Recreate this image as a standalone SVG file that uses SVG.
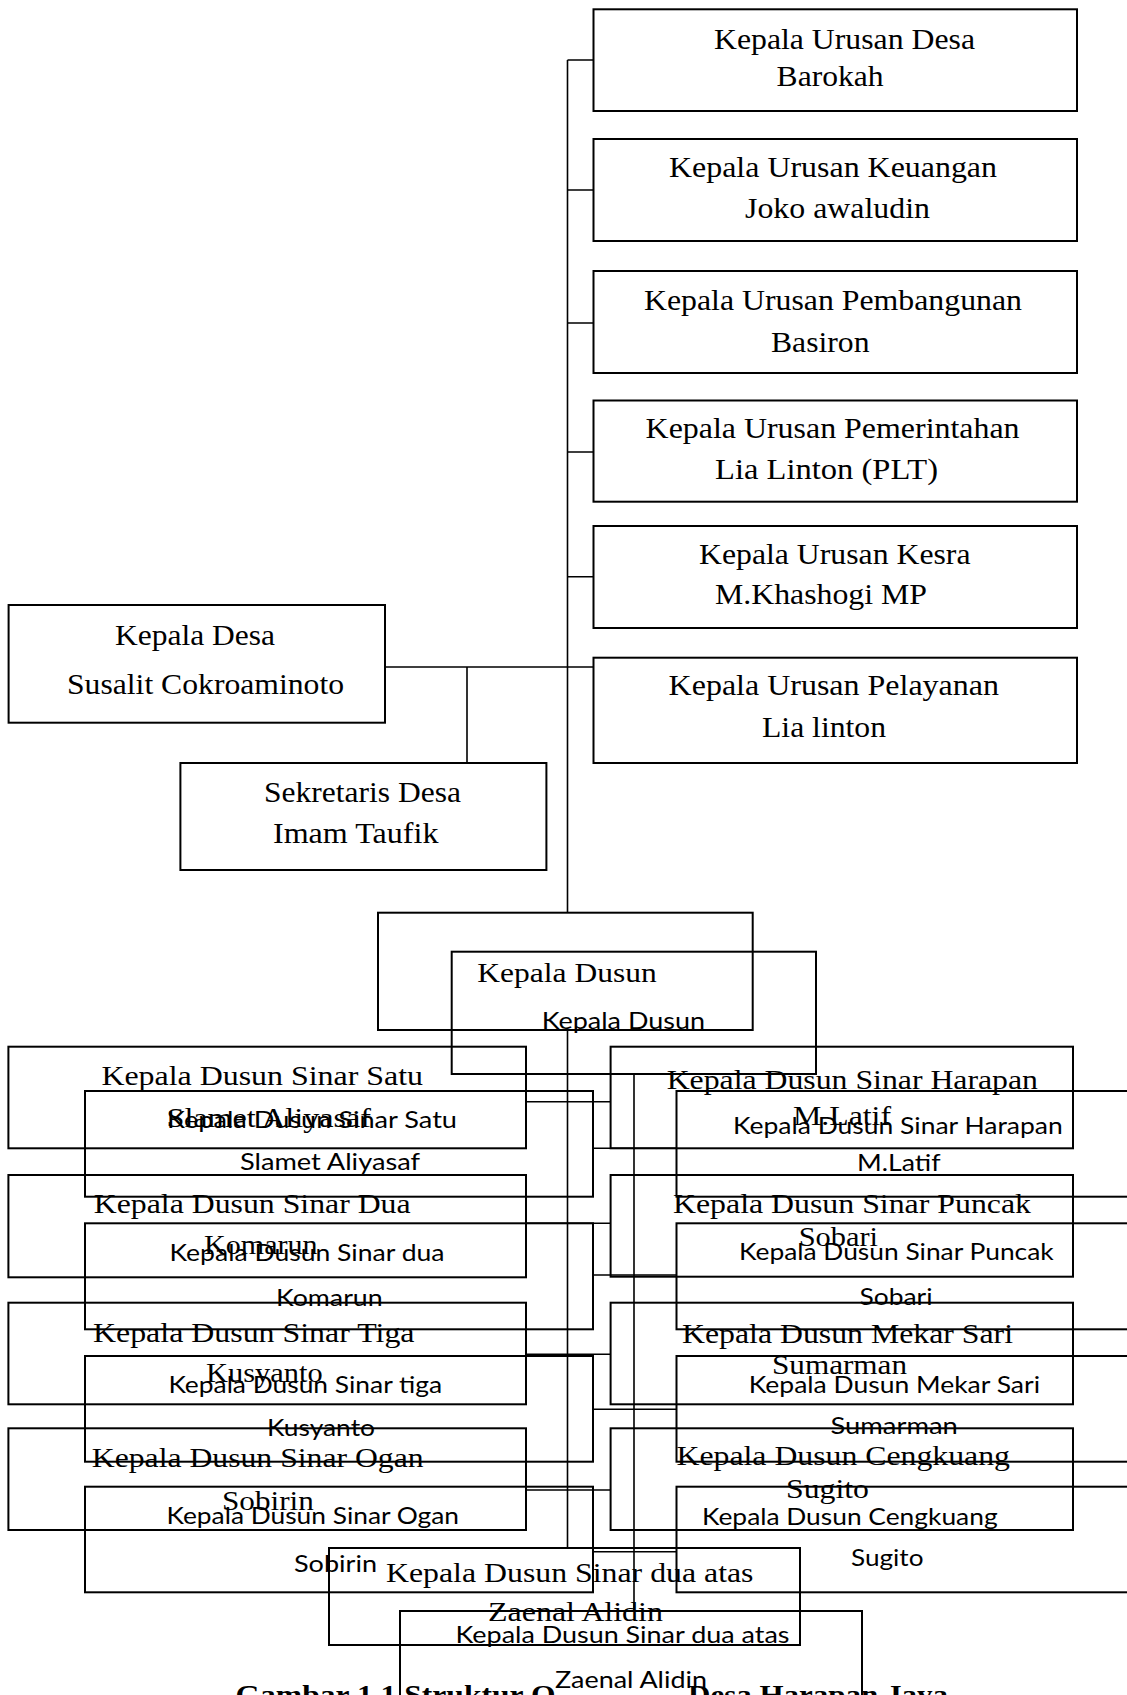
<svg xmlns="http://www.w3.org/2000/svg" width="1127" height="1695" viewBox="0 0 1127 1695">
<style>
.box{fill:none;stroke:#000;stroke-width:2}
.ln{fill:none;stroke:#000;stroke-width:1.6}
.st{font-family:"Liberation Serif","Times New Roman",serif;font-size:29px;fill:#000}
.sd{font-family:"Liberation Serif","Times New Roman",serif;font-size:28px;fill:#000}
.ss{font-family:Lato,"Open Sans",sans-serif;font-size:24px;fill:#000}
.cap{font-family:"Liberation Serif","Times New Roman",serif;font-size:28px;font-weight:bold;fill:#000}
</style>
<rect width="1127" height="1695" fill="#fff"/>
<g id="connectors">
<path class="ln" d="M567.5 60V912.7M567.5 60H593.5M567.5 190H593.5M567.5 323H593.5M567.5 452H593.5M567.5 576.7H593.5M385 667H593.5M467 667V763"/>
<path class="ln" d="M567.5 1030V1548M526 1101.7H610.6M526 1223.3H610.6M526 1354.3H610.6M526 1490H610.6"/>
<path class="ln" d="M634 1074V1611M593 1148.3H676.5M593 1275H676.5M593 1409.3H676.5M593 1551.7H676.5"/>
</g>
<g id="kaur-desa"><rect class="box" x="593.5" y="9.3" width="483.5" height="101.7"/>
<text class="st" x="714" y="49" textLength="261" lengthAdjust="spacingAndGlyphs">Kepala Urusan Desa</text>
<text class="st" x="776.6" y="86" textLength="107" lengthAdjust="spacingAndGlyphs">Barokah</text></g>
<g id="kaur-keuangan"><rect class="box" x="593.5" y="139" width="483.5" height="102"/>
<text class="st" x="669" y="177" textLength="328" lengthAdjust="spacingAndGlyphs">Kepala Urusan Keuangan</text>
<text class="st" x="745" y="218" textLength="185" lengthAdjust="spacingAndGlyphs">Joko awaludin</text></g>
<g id="kaur-pembangunan"><rect class="box" x="593.5" y="271" width="483.5" height="102"/>
<text class="st" x="644" y="310" textLength="378" lengthAdjust="spacingAndGlyphs">Kepala Urusan Pembangunan</text>
<text class="st" x="771" y="352" textLength="98.5" lengthAdjust="spacingAndGlyphs">Basiron</text></g>
<g id="kaur-pemerintahan"><rect class="box" x="593.5" y="400.5" width="483.5" height="101.2"/>
<text class="st" x="645.6" y="438" textLength="374" lengthAdjust="spacingAndGlyphs">Kepala Urusan Pemerintahan</text>
<text class="st" x="715" y="479" textLength="223" lengthAdjust="spacingAndGlyphs">Lia Linton (PLT)</text></g>
<g id="kaur-kesra"><rect class="box" x="593.5" y="526" width="483.5" height="102"/>
<text class="st" x="699" y="564" textLength="271.5" lengthAdjust="spacingAndGlyphs">Kepala Urusan Kesra</text>
<text class="st" x="715" y="604" textLength="212" lengthAdjust="spacingAndGlyphs">M.Khashogi MP</text></g>
<g id="kaur-pelayanan"><rect class="box" x="593.5" y="657.7" width="483.5" height="105.3"/>
<text class="st" x="668.6" y="695" textLength="330.4" lengthAdjust="spacingAndGlyphs">Kepala Urusan Pelayanan</text>
<text class="st" x="762" y="737" textLength="124" lengthAdjust="spacingAndGlyphs">Lia linton</text></g>
<g id="kepala-desa"><rect class="box" x="8.6" y="605" width="376.4" height="117.7"/>
<text class="st" x="115" y="645" textLength="160" lengthAdjust="spacingAndGlyphs">Kepala Desa</text>
<text class="st" x="67" y="694" textLength="277" lengthAdjust="spacingAndGlyphs">Susalit Cokroaminoto</text></g>
<g id="sekretaris"><rect class="box" x="180.4" y="763" width="366" height="107"/>
<text class="st" x="264" y="802" textLength="197" lengthAdjust="spacingAndGlyphs">Sekretaris Desa</text>
<text class="st" x="273" y="843" textLength="165.5" lengthAdjust="spacingAndGlyphs">Imam Taufik</text></g>
<g id="kadus-serif"><rect class="box" x="378" y="912.7" width="374.7" height="117.3"/>
<text class="sd" x="477.3" y="981.7" textLength="179.4" lengthAdjust="spacingAndGlyphs">Kepala Dusun</text></g>
<g id="kadus-sans"><rect class="box" x="451.7" y="951.7" width="364.3" height="122.3"/>
<text class="ss" x="541.7" y="1029" textLength="163.3" lengthAdjust="spacingAndGlyphs">Kepala Dusun</text></g>
<g id="satu-serif"><rect class="box" x="8.4" y="1046.7" width="517.6" height="101.6"/>
<text class="sd" x="101.4" y="1085" textLength="321.6" lengthAdjust="spacingAndGlyphs">Kepala Dusun Sinar Satu</text>
<text class="sd" x="166.5" y="1126.7" textLength="204.5" lengthAdjust="spacingAndGlyphs">Slamet Aliyasaf</text></g>
<g id="dua-serif"><rect class="box" x="8.4" y="1175" width="517.6" height="102.3"/>
<text class="sd" x="93.8" y="1213.3" textLength="316.8" lengthAdjust="spacingAndGlyphs">Kepala Dusun Sinar Dua</text>
<text class="sd" x="204" y="1254" textLength="113.6" lengthAdjust="spacingAndGlyphs">Komarun</text></g>
<g id="tiga-serif"><rect class="box" x="8.4" y="1302.7" width="517.6" height="101.6"/>
<text class="sd" x="93" y="1341.7" textLength="321.5" lengthAdjust="spacingAndGlyphs">Kepala Dusun Sinar Tiga</text>
<text class="sd" x="206" y="1381.7" textLength="116.6" lengthAdjust="spacingAndGlyphs">Kusyanto</text></g>
<g id="ogan-serif"><rect class="box" x="8.4" y="1428.3" width="517.6" height="101.7"/>
<text class="sd" x="91.8" y="1466.7" textLength="331.8" lengthAdjust="spacingAndGlyphs">Kepala Dusun Sinar Ogan</text>
<text class="sd" x="222" y="1510" textLength="91.8" lengthAdjust="spacingAndGlyphs">Sobirin</text></g>
<g id="harapan-serif"><rect class="box" x="610.6" y="1046.7" width="462.4" height="101.6"/>
<text class="sd" x="666.7" y="1089.3" textLength="371.3" lengthAdjust="spacingAndGlyphs">Kepala Dusun Sinar Harapan</text>
<text class="sd" x="793" y="1125" textLength="98" lengthAdjust="spacingAndGlyphs">M.Latif</text></g>
<g id="puncak-serif"><rect class="box" x="610.6" y="1175" width="462.4" height="101.7"/>
<text class="sd" x="673" y="1213.3" textLength="358" lengthAdjust="spacingAndGlyphs">Kepala Dusun Sinar Puncak</text>
<text class="sd" x="798.7" y="1246" textLength="79.3" lengthAdjust="spacingAndGlyphs">Sobari</text></g>
<g id="mekarsari-serif"><rect class="box" x="610.6" y="1302.7" width="462.4" height="101.6"/>
<text class="sd" x="682" y="1342.7" textLength="331" lengthAdjust="spacingAndGlyphs">Kepala Dusun Mekar Sari</text>
<text class="sd" x="772" y="1374" textLength="135" lengthAdjust="spacingAndGlyphs">Sumarman</text></g>
<g id="cengkuang-serif"><rect class="box" x="610.6" y="1428.3" width="462.4" height="101.7"/>
<text class="sd" x="676.5" y="1465" textLength="333.5" lengthAdjust="spacingAndGlyphs">Kepala Dusun Cengkuang</text>
<text class="sd" x="786" y="1498.3" textLength="83" lengthAdjust="spacingAndGlyphs">Sugito</text></g>
<g id="duaatas-serif"><rect class="box" x="329" y="1548" width="471" height="97"/>
<text class="sd" x="386" y="1581.7" textLength="367.5" lengthAdjust="spacingAndGlyphs">Kepala Dusun Sinar dua atas</text>
<text class="sd" x="488" y="1621" textLength="175" lengthAdjust="spacingAndGlyphs">Zaenal Alidin</text></g>
<g id="satu-sans"><rect class="box" x="85" y="1091" width="508" height="105.7"/>
<text class="ss" x="167" y="1128.3" textLength="290" lengthAdjust="spacingAndGlyphs">Kepala Dusun Sinar Satu</text>
<text class="ss" x="240" y="1170" textLength="180" lengthAdjust="spacingAndGlyphs">Slamet Aliyasaf</text></g>
<g id="dua-sans"><rect class="box" x="85" y="1223.3" width="508" height="106"/>
<text class="ss" x="169.5" y="1260.7" textLength="275" lengthAdjust="spacingAndGlyphs">Kepala Dusun Sinar dua</text>
<text class="ss" x="276" y="1306" textLength="106.7" lengthAdjust="spacingAndGlyphs">Komarun</text></g>
<g id="tiga-sans"><rect class="box" x="85" y="1356" width="508" height="105.7"/>
<text class="ss" x="168.4" y="1393.3" textLength="273.6" lengthAdjust="spacingAndGlyphs">Kepala Dusun Sinar tiga</text>
<text class="ss" x="267" y="1436" textLength="108" lengthAdjust="spacingAndGlyphs">Kusyanto</text></g>
<g id="ogan-sans"><rect class="box" x="85" y="1486.7" width="508" height="105.6"/>
<text class="ss" x="166.5" y="1524" textLength="292.5" lengthAdjust="spacingAndGlyphs">Kepala Dusun Sinar Ogan</text>
<text class="ss" x="294" y="1571.7" textLength="83" lengthAdjust="spacingAndGlyphs">Sobirin</text></g>
<g id="harapan-sans"><rect class="box" x="676.5" y="1091" width="480" height="105.7"/>
<text class="ss" x="733" y="1134" textLength="329.7" lengthAdjust="spacingAndGlyphs">Kepala Dusun Sinar Harapan</text>
<text class="ss" x="857" y="1170.7" textLength="83.5" lengthAdjust="spacingAndGlyphs">M.Latif</text></g>
<g id="puncak-sans"><rect class="box" x="676.5" y="1223.3" width="480" height="106"/>
<text class="ss" x="739" y="1260" textLength="314.7" lengthAdjust="spacingAndGlyphs">Kepala Dusun Sinar Puncak</text>
<text class="ss" x="859.5" y="1305" textLength="73" lengthAdjust="spacingAndGlyphs">Sobari</text></g>
<g id="mekarsari-sans"><rect class="box" x="676.5" y="1356" width="480" height="105.7"/>
<text class="ss" x="748.8" y="1393.3" textLength="291.2" lengthAdjust="spacingAndGlyphs">Kepala Dusun Mekar Sari</text>
<text class="ss" x="830.5" y="1434" textLength="127.3" lengthAdjust="spacingAndGlyphs">Sumarman</text></g>
<g id="cengkuang-sans"><rect class="box" x="676.5" y="1486.7" width="480" height="105.6"/>
<text class="ss" x="702" y="1525" textLength="295.6" lengthAdjust="spacingAndGlyphs">Kepala Dusun Cengkuang</text>
<text class="ss" x="851" y="1565.7" textLength="72.5" lengthAdjust="spacingAndGlyphs">Sugito</text></g>
<g id="caption">
<text class="cap" x="235.5" y="1704" textLength="320" lengthAdjust="spacingAndGlyphs">Gambar 1.1 Struktur O</text>
<text class="cap" x="688" y="1704" textLength="260" lengthAdjust="spacingAndGlyphs">Desa Harapan Jaya</text>
</g>
<g id="duaatas-sans"><rect class="box" x="400" y="1611" width="462" height="120"/>
<text class="ss" x="455.5" y="1643.3" textLength="334" lengthAdjust="spacingAndGlyphs">Kepala Dusun Sinar dua atas</text>
<text class="ss" x="555" y="1688" textLength="152" lengthAdjust="spacingAndGlyphs">Zaenal Alidin</text></g>
</svg>
